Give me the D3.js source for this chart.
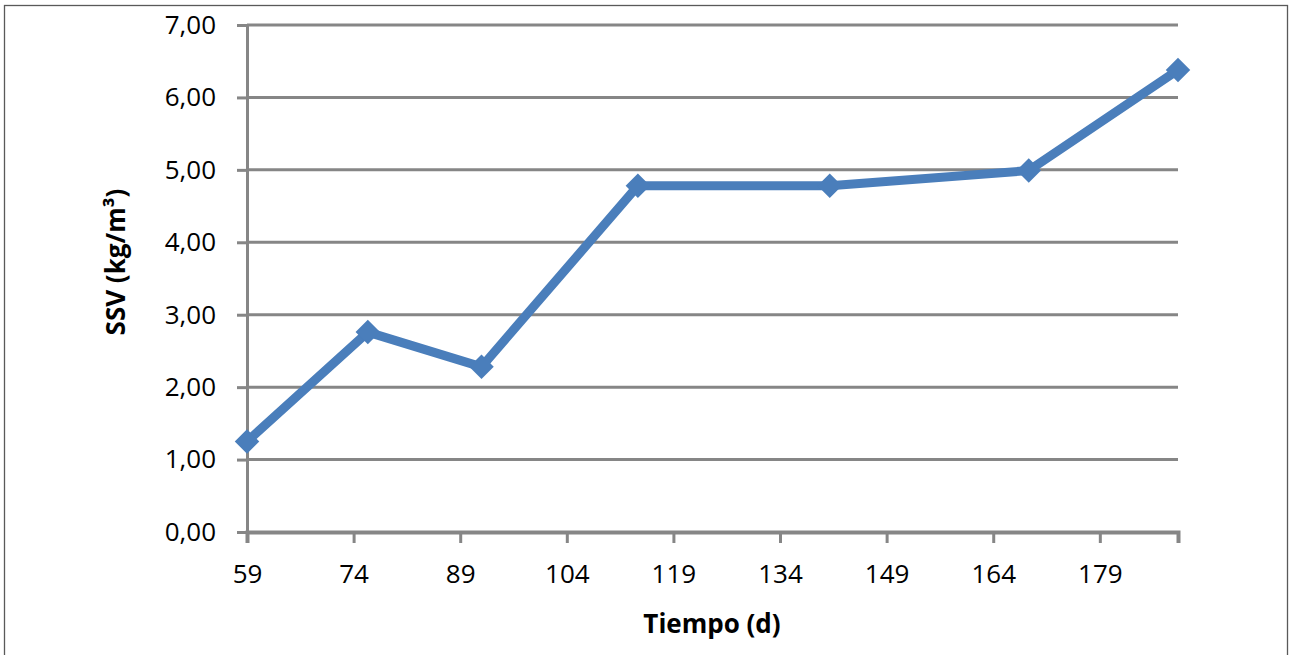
<!DOCTYPE html>
<html>

<head>
    <meta charset="utf-8" />
    <title>SSV vs Tiempo</title>
    <script src="https://d3js.org/d3.v7.min.js"></script>
    <style>
        body { margin: 0; background: #fff; }
        text { font-family: "Open Sans", "DejaVu Sans", sans-serif; }
    </style>
</head>

<body>
    <svg width="1294" height="655"></svg>
    <script>
        // data
        const dias = [59, 76, 92, 114, 141, 169, 190];
        const ssv = [1.25, 2.76, 2.28, 4.78, 4.78, 4.99, 6.38];
        const xTicks = [59, 74, 89, 104, 119, 134, 149, 164, 179];
        const yTicks = [0, 1, 2, 3, 4, 5, 6, 7];

        const svg = d3.select("svg");
        const width = +svg.attr("width");
        const height = +svg.attr("height");
        const margin = { top: 25, bottom: 123, left: 247, right: 116 };
        const gridColor = "#868686";
        const lineColor = "#4a7ebb";

        // outer frame (bottom edge falls outside the picture)
        svg.append("rect")
            .attr("x", 4.5).attr("y", 5.5)
            .attr("width", 1283).attr("height", 660)
            .attr("fill", "none")
            .attr("stroke", "#595959")
            .attr("stroke-width", 1.3);

        const x = d3.scaleLinear()
            .domain([59, 190])
            .range([margin.left, width - margin.right]);
        const y = d3.scaleLinear()
            .domain([0, 7])
            .range([height - margin.bottom, margin.top]);

        const fmt = d => d3.format(".2f")(d).replace(".", ",");

        // horizontal gridlines
        svg.append("g")
            .selectAll("line")
            .data(yTicks.filter(d => d > 0))
            .enter()
            .append("line")
            .attr("x1", x(59)).attr("x2", x(190))
            .attr("y1", d => y(d)).attr("y2", d => y(d))
            .attr("stroke", gridColor)
            .attr("stroke-width", 3);

        // y axis
        const yAxis = svg.append("g")
            .attr("transform", "translate(" + margin.left + ",0)")
            .call(d3.axisLeft(y).tickValues(yTicks).tickFormat(fmt).tickSize(10).tickPadding(21));
        yAxis.select(".domain").attr("stroke", gridColor).attr("stroke-width", 3);
        yAxis.selectAll(".tick line").attr("stroke", gridColor).attr("stroke-width", 3);
        yAxis.selectAll("text").attr("font-size", 26).attr("fill", "#000")
            .style("font-family", "'Open Sans', sans-serif");

        // x axis
        const xAxis = svg.append("g")
            .attr("transform", "translate(0," + (height - margin.bottom) + ")")
            .call(d3.axisBottom(x).tickValues(xTicks).tickFormat(d3.format("d")).tickSize(11).tickPadding(22));
        xAxis.select(".domain").attr("stroke", gridColor).attr("stroke-width", 4);
        xAxis.selectAll(".tick line").attr("stroke", gridColor).attr("stroke-width", 3);
        xAxis.selectAll("text").attr("font-size", 26).attr("fill", "#000")
            .style("font-family", "'Open Sans', sans-serif");

        // series
        const pts = dias.map((d, i) => ({ dia: d, val: ssv[i] }));
        const line = d3.line().x(d => x(d.dia)).y(d => y(d.val));

        svg.append("path")
            .datum(pts)
            .attr("d", line)
            .attr("fill", "none")
            .attr("stroke", lineColor)
            .attr("stroke-width", 9)
            .attr("stroke-linejoin", "round");

        svg.append("g")
            .selectAll("path")
            .data(pts)
            .enter()
            .append("path")
            .attr("d", d3.symbol().type(d3.symbolSquare).size(300))
            .attr("transform", d => "translate(" + x(d.dia) + "," + y(d.val) + ") rotate(45)")
            .attr("fill", lineColor);

        // axis titles
        svg.append("text")
            .attr("x", 712)
            .attr("y", 633)
            .attr("text-anchor", "middle")
            .attr("font-size", 26)
            .attr("font-weight", "bold")
            .text("Tiempo (d)");

        svg.append("text")
            .attr("transform", "translate(125,262) rotate(-90)")
            .attr("text-anchor", "middle")
            .attr("font-size", 26)
            .attr("font-weight", "bold")
            .text("SSV (kg/m³)");
    </script>
</body>

</html>
